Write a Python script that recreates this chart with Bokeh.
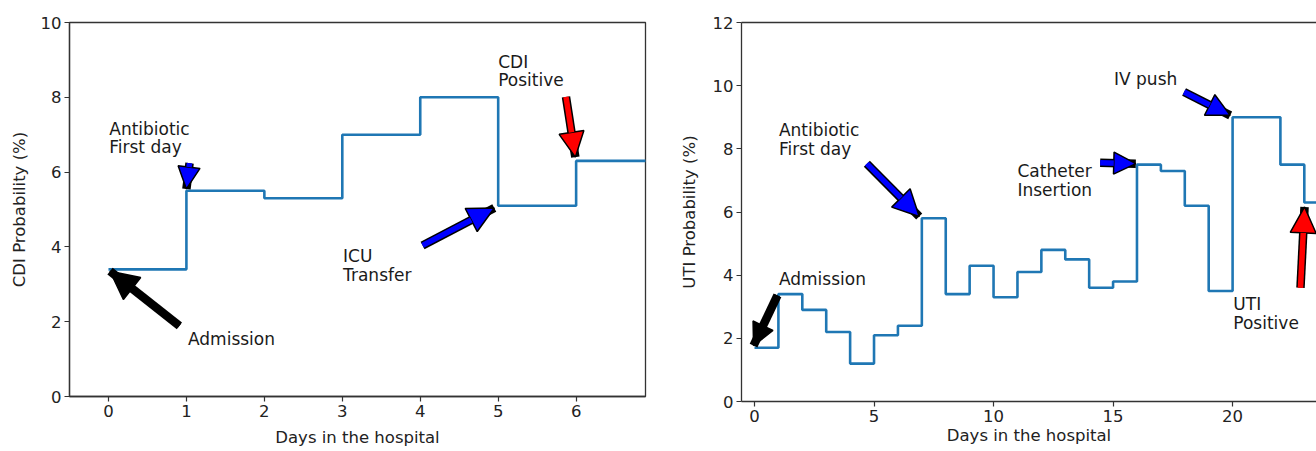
from bokeh.plotting import figure
from bokeh.models import Arrow, NormalHead, FixedTicker, Range1d, LinearAxis
from bokeh.layouts import row, column
from bokeh.embed import file_html
from bokeh.resources import INLINE
from bokeh.core.properties import value

# ---------------- data ----------------
cdi_days = [0, 1, 2, 3, 4, 5, 6, 7]
cdi_prob = [3.4, 5.5, 5.3, 7.0, 8.0, 5.1, 6.3, 6.3]
cdi_xticks = [0, 1, 2, 3, 4, 5, 6]
cdi_yticks = [0, 2, 4, 6, 8, 10]

uti_days = list(range(25))
uti_prob = [1.7, 3.4, 2.9, 2.2, 1.2, 2.1, 2.4, 5.8, 3.4, 4.3, 3.3, 4.1, 4.8,
            4.5, 3.6, 3.8, 7.5, 7.3, 6.2, 3.5, 9.0, 9.0, 7.5, 6.3, 6.3]
uti_xticks = [0, 5, 10, 15, 20, 25]
uti_yticks = [0, 2, 4, 6, 8, 10, 12]

# annotations (data coordinates)
cdi_label_text = ["Admission", "Antibiotic", "First day", "ICU", "Transfer", "CDI", "Positive"]
cdi_label_x = [1.02, 0.01, 0.01, 3.01, 3.01, 5.0, 5.0]
cdi_label_y = [1.55, 7.16, 6.67, 3.77, 3.26, 8.95, 8.46]
cdi_arrow_x0 = [0.91, 1.04, 4.03, 5.87]
cdi_arrow_y0 = [1.89, 6.24, 4.04, 8.01]
cdi_arrow_x1 = [0.02, 1.00, 4.95, 5.99]
cdi_arrow_y1 = [3.35, 5.55, 5.04, 6.40]
cdi_arrow_color = ["#000000", "#0000ff", "#0000ff", "#ff0000"]
cdi_arrow_head = [28, 22, 26, 25]

uti_label_text = ["Admission", "Antibiotic", "First day", "Catheter", "Insertion", "IV push", "UTI", "Positive"]
uti_label_x = [1.02, 1.02, 1.02, 11.0, 11.0, 15.04, 20.03, 20.03]
uti_label_y = [3.89, 8.61, 8.00, 7.30, 6.71, 10.2, 3.09, 2.49]
uti_arrow_x0 = [0.96, 4.70, 14.46, 17.97, 22.84]
uti_arrow_y0 = [3.36, 7.53, 7.56, 9.80, 3.60]
uti_arrow_x1 = [-0.04, 6.89, 15.95, 19.90, 23.01]
uti_arrow_y1 = [1.77, 5.86, 7.53, 9.06, 6.16]
uti_arrow_color = ["#000000", "#0000ff", "#0000ff", "#0000ff", "#ff0000"]
uti_arrow_head = [22, 26, 22, 23, 26]

X_LABEL = "Days in the hospital"

FONT = "DejaVu Sans"
LINE = "#1f77b4"
AX = "#333333"


def style(p, xticks, yticks, xlabel, ylabel, ylab_standoff, xlab_standoff):
    p.grid.visible = False
    for ax in (p.xaxis[0], p.yaxis[0]):
        ax.axis_line_color = AX
        ax.axis_line_width = 1.3
        ax.major_tick_line_color = AX
        ax.major_tick_line_width = 1.2
        ax.major_tick_out = 5
        ax.major_tick_in = 0
        ax.minor_tick_line_color = None
        ax.major_label_text_font = FONT
        ax.major_label_text_font_size = "16.5px"
        ax.major_label_text_color = "#222222"
        ax.axis_label_text_font = FONT
        ax.axis_label_text_font_size = "16.5px"
        ax.axis_label_text_font_style = "normal"
        ax.axis_label_text_color = "#222222"
        ax.major_label_standoff = 3
    p.xaxis[0].ticker = FixedTicker(ticks=xticks)
    p.yaxis[0].ticker = FixedTicker(ticks=yticks)
    p.xaxis[0].axis_label = xlabel
    p.yaxis[0].axis_label = ylabel
    p.xaxis[0].axis_label_standoff = xlab_standoff
    p.yaxis[0].axis_label_standoff = ylab_standoff


def add_arrows(p, x0, y0, x1, y1, colors, heads):
    for i in range(len(x0)):
        p.add_layout(Arrow(end=None, x_start=x0[i], y_start=y0[i], x_end=x1[i], y_end=y1[i],
                           line_color="black", line_width=8.5))
        p.add_layout(Arrow(end=NormalHead(size=heads[i], fill_color=colors[i], line_color="black",
                                          line_width=1.5),
                           x_start=x0[i], y_start=y0[i], x_end=x1[i], y_end=y1[i],
                           line_color=colors[i], line_width=5.5))


def add_labels(p, xs, ys, texts):
    p.text(x=xs, y=ys, text=texts, text_font=value(FONT), text_font_size="17px",
           text_color="#1a1a1a", text_baseline="middle", text_align="left")


# ---------------- left: CDI ----------------
p1 = figure(width=660, height=451, output_backend="svg", toolbar_location=None,
            x_range=Range1d(-0.5, 6.89), y_range=Range1d(0, 10),
            min_border_left=69, min_border_right=15, min_border_top=22, min_border_bottom=55)
p1.outline_line_color = AX
p1.outline_line_width = 1.3
style(p1, cdi_xticks, cdi_yticks, X_LABEL, "CDI Probability (%)", 9, 8)
p1.step(cdi_days, cdi_prob, mode="after", line_color=LINE, line_width=2.6)
add_arrows(p1, cdi_arrow_x0, cdi_arrow_y0, cdi_arrow_x1, cdi_arrow_y1, cdi_arrow_color, cdi_arrow_head)
add_labels(p1, cdi_label_x, cdi_label_y, cdi_label_text)

# ---------------- right: UTI ----------------
p2 = figure(width=656, height=451, output_backend="svg", toolbar_location=None,
            x_range=Range1d(-0.544, 23.51), y_range=Range1d(0, 12),
            min_border_left=81, min_border_right=0, min_border_top=22, min_border_bottom=50)
p2.outline_line_color = None
style(p2, uti_xticks, uti_yticks, X_LABEL, "UTI Probability (%)", 11, 1)
top = LinearAxis(ticker=FixedTicker(ticks=[]), major_tick_line_color=None,
                 minor_tick_line_color=None, axis_line_color=AX, axis_line_width=1.3,
                 major_label_standoff=0)
p2.add_layout(top, "above")
p2.step(uti_days, uti_prob, mode="after", line_color=LINE, line_width=2.6)
add_arrows(p2, uti_arrow_x0, uti_arrow_y0, uti_arrow_x1, uti_arrow_y1, uti_arrow_color, uti_arrow_head)
add_labels(p2, uti_label_x, uti_label_y, uti_label_text)

layout = row(column(p1), column(p2))
open("out.html", "w").write(file_html(layout, INLINE))
